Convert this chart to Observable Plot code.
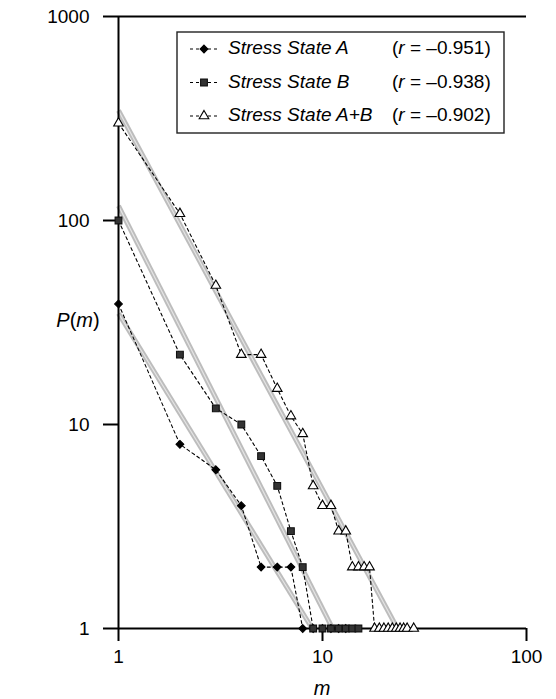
<!DOCTYPE html>
<html>
<head>
<meta charset="utf-8">
<script src="https://cdn.jsdelivr.net/npm/d3@7"></script>
<script src="https://cdn.jsdelivr.net/npm/@observablehq/plot@0.6"></script>
<style>
  html, body { margin: 0; padding: 0; background: #fff; }
  #chart svg { display: block; }
</style>
</head>
<body>
<div id="chart"></div>
<script>
// Cumulative frequency P(m) against cluster size m, per stress state
const seriesNames = ["Stress State A", "Stress State B", "Stress State A+B"];
const rValues = ["\u20130.951", "\u20130.938", "\u20130.902"];

const mA = [1, 2, 3, 4, 5, 6, 7, 8, 9, 10, 11, 12, 13];
const pA = [39, 8, 6, 4, 2, 2, 2, 1, 1, 1, 1, 1, 1];

const mB = [1, 2, 3, 4, 5, 6, 7, 8, 9, 10, 11, 12, 13, 14, 15];
const pB = [100, 22, 12, 10, 7, 5, 3, 2, 1, 1, 1, 1, 1, 1, 1];

const mAB = [1, 2, 3, 4, 5, 6, 7, 8, 9, 10, 11, 12, 13, 14, 15, 16, 17, 18, 19, 20, 21, 22, 23, 24, 25, 26, 28];
const pAB = [300, 108, 48, 22, 22, 15, 11, 9, 5, 4, 4, 3, 3, 2, 2, 2, 2, 1, 1, 1, 1, 1, 1, 1, 1, 1, 1];

// Power-law regression lines: endpoints (m, P) from m = 1 down to P = 1
const fitA = {m: [1, 8.9], p: [35, 1]};
const fitB = {m: [1, 11.2], p: [118, 1]};
const fitAB = {m: [1, 23.3], p: [346, 1]};

const xTicks = [1, 10, 100];
const yTicks = [1, 10, 100, 1000];

const toRows = (ms, ps, s) => ms.map((m, i) => ({m, p: ps[i], s}));
const points = [
  ...toRows(mA, pA, seriesNames[0]),
  ...toRows(mB, pB, seriesNames[1]),
  ...toRows(mAB, pAB, seriesNames[2])
];
const fits = [
  ...toRows(fitA.m, fitA.p, seriesNames[0]),
  ...toRows(fitB.m, fitB.p, seriesNames[1]),
  ...toRows(fitAB.m, fitAB.p, seriesNames[2])
];

const symbols = {
  [seriesNames[0]]: {type: "diamond2", size: 38, fill: "#000", stroke: "#000"},
  [seriesNames[1]]: {type: "square", size: 46, fill: "#333", stroke: "#111"},
  [seriesNames[2]]: {type: "triangle", size: 40, fill: "#fff", stroke: "#000"}
};
const sizeToR = s => Math.sqrt(s / Math.PI);

const font = "'Liberation Sans', Arial, Helvetica, sans-serif";
const fmt = d => String(d);

const plot = Plot.plot({
  width: 556,
  height: 699,
  marginLeft: 118,
  marginRight: 30,
  marginTop: 16,
  marginBottom: 71,
  style: {fontFamily: font, fontSize: "19px", background: "#fff", color: "#000", overflow: "visible"},
  x: {type: "log", domain: [1, 100]},
  y: {type: "log", domain: [1, 1000]},
  marks: [
    // regression bands
    Plot.line(fits, {x: "m", y: "p", z: "s", stroke: "#bdbdbd", strokeWidth: 5, strokeLinecap: "butt"}),
    Plot.line(fits, {x: "m", y: "p", z: "s", stroke: "#e4e4e4", strokeWidth: 1.2}),
    // dashed connectors
    Plot.line(points, {x: "m", y: "p", z: "s", stroke: "#000", strokeWidth: 1.1, strokeDasharray: "3,3"}),
    // axes
    Plot.ruleX([1], {stroke: "#000", strokeWidth: 2}),
    Plot.ruleY([1], {stroke: "#000", strokeWidth: 2}),
    Plot.ruleY([1000], {stroke: "#000", strokeWidth: 2}),
    Plot.axisX({ticks: xTicks, tickFormat: fmt, tickSize: 13, tickPadding: 8, label: null, strokeWidth: 2, fontSize: 19}),
    Plot.axisY({ticks: yTicks, tickFormat: fmt, tickSize: 15, tickPadding: 14, label: null, strokeWidth: 2, fontSize: 19}),
    // markers
    ...seriesNames.map(s => Plot.dot(points.filter(d => d.s === s), {
      x: "m", y: "p",
      symbol: symbols[s].type,
      r: sizeToR(symbols[s].size),
      fill: symbols[s].fill,
      stroke: symbols[s].stroke,
      strokeWidth: 1.1
    }))
  ]
});

document.getElementById("chart").appendChild(plot);

// Axis titles and legend
const svg = d3.select(plot);

const yTitle = svg.append("text")
  .attr("x", 78).attr("y", 322)
  .attr("text-anchor", "middle").attr("dominant-baseline", "middle")
  .attr("font-family", font).attr("font-size", 20).attr("fill", "#000");
yTitle.append("tspan").attr("font-style", "italic").text("P");
yTitle.append("tspan").text("(");
yTitle.append("tspan").attr("font-style", "italic").text("m");
yTitle.append("tspan").text(")");

svg.append("text")
  .attr("x", 322).attr("y", 690)
  .attr("text-anchor", "middle").attr("dominant-baseline", "middle")
  .attr("font-family", font).attr("font-size", 20).attr("font-style", "italic").attr("fill", "#000")
  .text("m");

const legend = svg.append("g")
  .attr("font-family", font).attr("font-size", 19).attr("text-anchor", "start");
legend.append("rect")
  .attr("x", 177).attr("y", 32).attr("width", 327).attr("height", 101)
  .attr("fill", "#fff").attr("stroke", "#222").attr("stroke-width", 1.4);

const symbolOf = {diamond2: d3.symbolDiamond2, square: d3.symbolSquare, triangle: d3.symbolTriangle};
seriesNames.forEach((name, i) => {
  const y = 49 + i * 33.5;
  const sym = symbols[name];
  legend.append("line")
    .attr("x1", 190).attr("x2", 219).attr("y1", y).attr("y2", y)
    .attr("stroke", "#000").attr("stroke-width", 1.1).attr("stroke-dasharray", "3,3");
  legend.append("path")
    .attr("transform", `translate(204,${y})`)
    .attr("d", d3.symbol(symbolOf[sym.type], sym.size)())
    .attr("fill", sym.fill).attr("stroke", sym.stroke).attr("stroke-width", 1.1);
  legend.append("text")
    .attr("x", 228).attr("y", y).attr("dominant-baseline", "middle")
    .attr("text-anchor", "start")
    .attr("font-style", "italic").text(name);
  const rt = legend.append("text")
    .attr("x", 392).attr("y", y).attr("dominant-baseline", "middle")
    .attr("text-anchor", "start");
  rt.append("tspan").text("(");
  rt.append("tspan").attr("font-style", "italic").text("r");
  rt.append("tspan").text(" = " + rValues[i] + ")");
});
</script>
</body>
</html>
